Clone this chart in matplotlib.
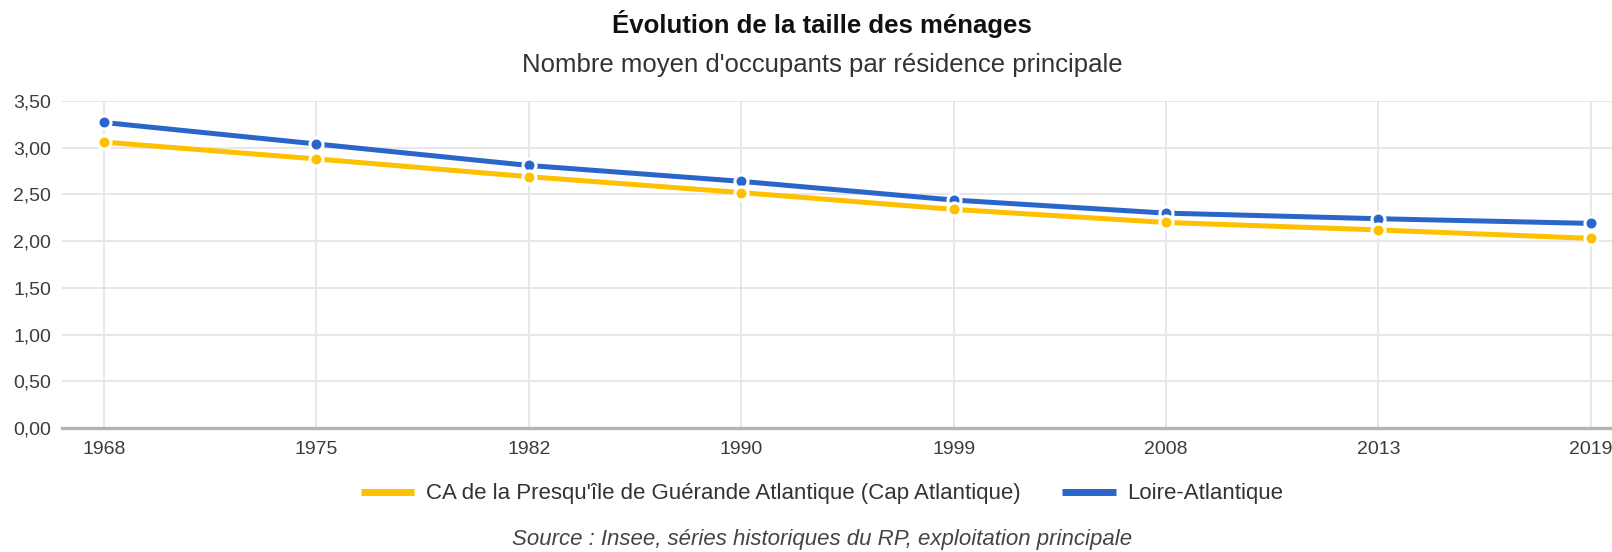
"""Évolution de la taille des ménages: Cap Atlantique vs Loire-Atlantique."""

import matplotlib
matplotlib.use("Agg")
import matplotlib.pyplot as plt
from matplotlib.ticker import FuncFormatter

YEARS = ["1968", "1975", "1982", "1990", "1999", "2008", "2013", "2019"]
CAP_ATLANTIQUE = [3.06, 2.88, 2.69, 2.52, 2.34, 2.20, 2.12, 2.03]
LOIRE_ATLANTIQUE = [3.27, 3.04, 2.81, 2.64, 2.44, 2.30, 2.24, 2.19]
LABEL_CAP = "CA de la Presqu'île de Guérande Atlantique (Cap Atlantique)"
LABEL_LOIRE = "Loire-Atlantique"
Y_TICKS = [0.0, 0.5, 1.0, 1.5, 2.0, 2.5, 3.0, 3.5]

YELLOW = "#ffc000"
BLUE = "#2a66c9"
W, H = 1612, 552


def main() -> None:
    plt.rcParams["font.family"] = ["Liberation Sans", "DejaVu Sans"]
    fig = plt.figure(figsize=(W / 100, H / 100), dpi=100)

    # axes box in pixel terms: left 62, right past the edge, y 101..428
    ax = fig.add_axes([62 / W, (H - 428) / H, (W - 62) / W, (428 - 101) / H])
    x = list(range(len(YEARS)))

    ax.plot(x, LOIRE_ATLANTIQUE, color=BLUE, lw=3.6, marker="o", ms=9.4,
            mfc=BLUE, mec="white", mew=2.2, zorder=3, label=LABEL_LOIRE,
            solid_capstyle="butt")
    ax.plot(x, CAP_ATLANTIQUE, color=YELLOW, lw=3.6, marker="o", ms=9.4,
            mfc=YELLOW, mec="white", mew=2.2, zorder=4, label=LABEL_CAP,
            solid_capstyle="butt")

    ax.set_xlim(-0.198, 7.10)
    ax.set_ylim(0, 3.5)
    ax.set_xticks(x)
    ax.set_xticklabels(YEARS)
    ax.set_yticks(Y_TICKS)
    ax.yaxis.set_major_formatter(FuncFormatter(lambda v, _: f"{v:.2f}".replace(".", ",")))
    ax.tick_params(length=0, labelsize=14, colors="#3c3c3c")
    ax.tick_params(axis="y", pad=8)
    ax.tick_params(axis="x", pad=9)
    ax.grid(True, color="#e5e5e5", lw=1.3)
    ax.set_axisbelow(True)
    for side in ["top", "right", "left"]:
        ax.spines[side].set_visible(False)
    ax.spines["bottom"].set_color("#b3b3b3")
    ax.spines["bottom"].set_linewidth(2.4)
    ax.spines["bottom"].set_zorder(2)

    fig.text(822 / W, 1 - 24 / H, "Évolution de la taille des ménages",
             ha="center", va="center", fontsize=18.5, fontweight="bold", color="#111111")
    fig.text(822 / W, 1 - 65 / H, "Nombre moyen d'occupants par résidence principale",
             ha="center", va="center", fontsize=18.5, color="#333333")

    handles, labels = ax.get_legend_handles_labels()
    leg = fig.legend(handles[::-1], labels[::-1], loc="center",
                     bbox_to_anchor=(822 / W, 1 - 494 / H), ncol=2, frameon=False,
                     fontsize=16, handlelength=2.4, handletextpad=0.5,
                     columnspacing=1.9, labelcolor="#333333")
    for line in leg.get_lines():
        line.set_marker("")
        line.set_linewidth(5)

    fig.text(822 / W, 1 - 539 / H, "Source : Insee, séries historiques du RP, exploitation principale",
             ha="center", va="center", fontsize=16, style="italic", color="#444444")

    fig.savefig("out.png", dpi=100)


if __name__ == "__main__":
    main()
